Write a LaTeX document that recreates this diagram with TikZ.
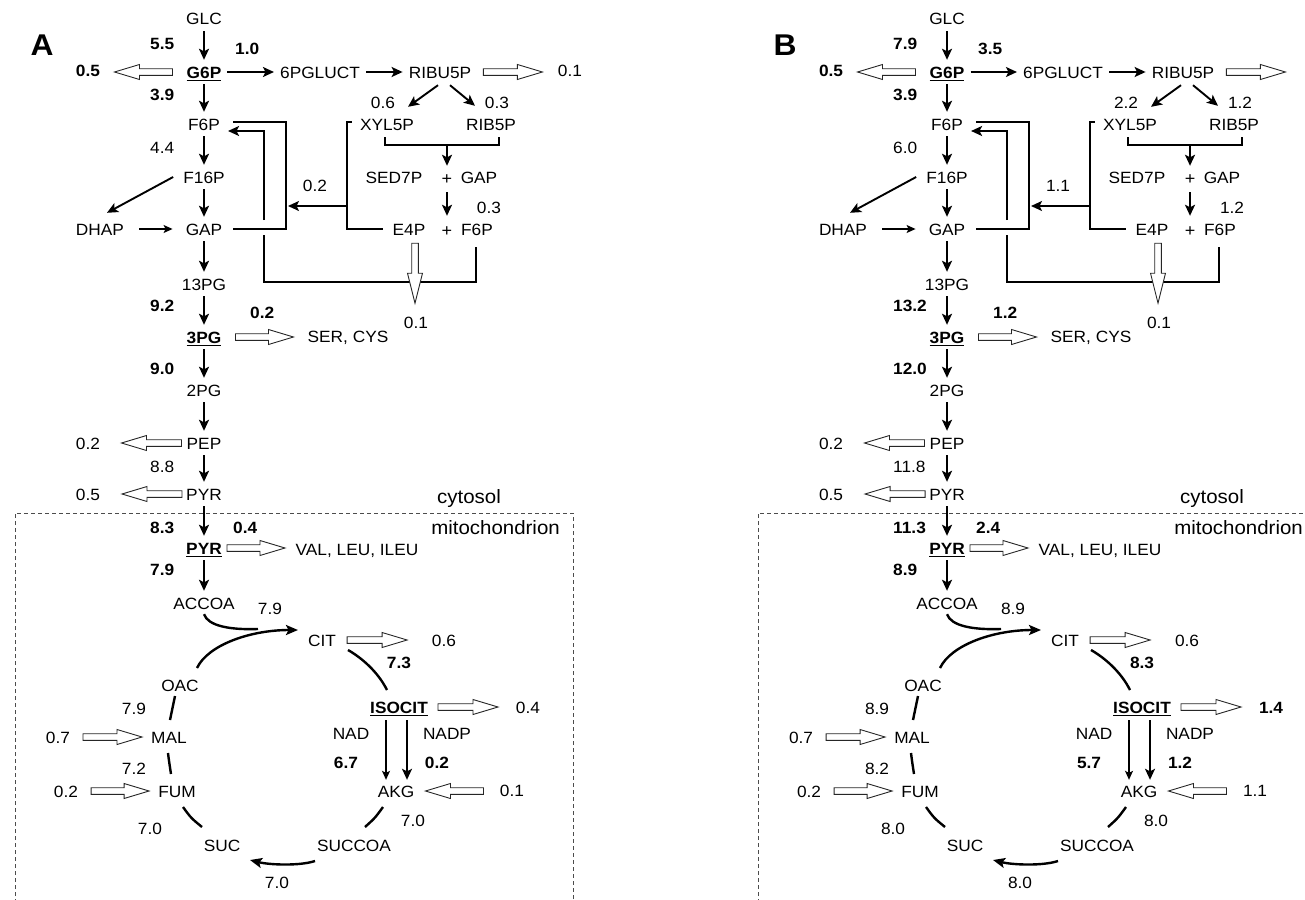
\documentclass[tikz,border=0pt]{standalone}
\usepackage{fontspec}
\setmainfont{Liberation Sans}[FakeStretch=1.06]
\usetikzlibrary{arrows.meta,calc}
\newcommand\fs{\fontsize{16.3pt}{19pt}\selectfont}
\newcommand\fsbig{\fontsize{19.3pt}{22pt}\selectfont}
\newcommand\myul[1]{\setbox0\hbox{#1}\rlap{\rule[-3pt]{\wd0}{1.2pt}}\box0}
% hollow (outlined) arrow from #2 to #3, head length #1
\newcommand\hollow[3][25pt]{%
  \path (#2) coordinate (hs) (#3) coordinate (he);
  \coordinate (hb) at ($(he)!#1!(hs)$);
  \draw[hol] ($(hs)!3.3pt!90:(he)$) -- ($(hb)!3.3pt!90:(he)$) -- ($(hb)!7.5pt!90:(he)$)
    -- (he) -- ($(hb)!7.5pt!-90:(he)$) -- ($(hb)!3.3pt!-90:(he)$) -- ($(hs)!3.3pt!-90:(he)$) -- cycle;}
\tikzset{
  met/.style={font=\fs, text height=12pt, text depth=0pt, inner sep=3pt},
  bmet/.style={met, font=\fs\bfseries},
  plus/.style={met, font=\fontsize{17pt}{19pt}\selectfont},
  big/.style={font=\fsbig, inner sep=0pt},
  lett/.style={font=\fontsize{30pt}{34pt}\selectfont\bfseries, inner sep=0pt},
  flow/.style={-{Stealth[length=11pt,width=10pt,inset=2.5pt]}, line width=1.9pt},
  thinflow/.style={-{Stealth[length=9pt,width=8pt,inset=2pt]}, line width=1.2pt},
  gap/.style={shorten <=3pt, shorten >=3pt},
  pline/.style={line width=1.9pt},
  tca/.style={line width=2.4pt},
  hol/.style={line width=0.9pt, draw=black!85, fill=white, line join=miter},
  dbox/.style={line width=1pt, draw=black!70, dash pattern=on 4pt off 3pt},
}
\newcommand\drawpanel{%
  \node[lett] (LET) at (42,45) {\pnLet};
  % main column
  \node[met] (GLC) at (204,19) {GLC};
  \node[bmet] (G6P) at (204,72) {\myul{G6P}};
  \node[met] (n6PG) at (320,72) {6PGLUCT};
  \node[met] (RIBU5P) at (440,72) {RIBU5P};
  \node[met] (F6P) at (204,124) {F6P};
  \node[met] (F16P) at (204,177) {F16P};
  \node[met] (DHAP) at (100,229) {DHAP};
  \node[met] (GAP) at (204,229) {GAP};
  \node[met] (n13PG) at (204,284) {13PG};
  \node[bmet] (n3PG) at (204,337) {\myul{3PG}};
  \node[met] (n2PG) at (204,390) {2PG};
  \node[met] (PEP) at (204,443) {PEP};
  \node[met] (PYR) at (204,494) {PYR};
  \node[bmet] (PYRm) at (204,548) {\myul{PYR}};
  \node[met] (ACCOA) at (204,603) {ACCOA};
  % pentose phosphate part
  \node[met] (XYL5P) at (387,124) {XYL5P};
  \node[met] (RIB5P) at (491,124) {RIB5P};
  \node[met] (SED7P) at (394,177) {SED7P};
  \node[plus] (plusA) at (447,178) {+};
  \node[met] (GAPb) at (479,177) {GAP};
  \node[met] (E4P) at (409,229) {E4P};
  \node[plus] (plusB) at (447,230) {+};
  \node[met] (F6Pb) at (477,229) {F6P};
  \node[met] (SER) at (348,336) {SER, CYS};
  \node[met] (VAL) at (357,549) {VAL, LEU, ILEU};
  % TCA
  \node[met] (CIT) at (322,640) {CIT};
  \node[met] (OAC) at (180,685) {OAC};
  \node[bmet] (ISOCIT) at (399,707) {\myul{ISOCIT}};
  \node[met] (MAL) at (169,737) {MAL};
  \node[met] (FUM) at (177,791) {FUM};
  \node[met] (AKG) at (396,791) {AKG};
  \node[met] (SUC) at (222,845) {SUC};
  \node[met] (SUCCOA) at (354,845) {SUCCOA};
  \node[met] (NAD) at (351,733) {NAD};
  \node[met] (NADP) at (447,733) {NADP};
  \node[big,anchor=base west] (cyto) at (437,503) {cytosol};
  \node[big,anchor=base east] (mito) at (560,534) {mitochondrion};
  % flux labels
  \node[bmet,anchor=west] (fA) at (147,43) {\pnA};
  \node[bmet,anchor=west] (fB) at (232,49) {\pnB};
  \node[bmet] (fC) at (88,71) {0.5};
  \node[bmet,anchor=west] (fD) at (147,94) {3.9};
  \node[met] (fE) at (570,71) {\pnE};
  \node[met] (fF) at (383,102) {\pnF};
  \node[met] (fG) at (497,102) {\pnG};
  \node[met,anchor=west] (fH) at (147,147) {\pnH};
  \node[met] (fI) at (315,185) {\pnI};
  \node[met] (fJ) at (489,207) {\pnJ};
  \node[met] (fK) at (416,322) {0.1};
  \node[bmet,anchor=west] (fL) at (147,305) {\pnK};
  \node[bmet,anchor=west] (fM) at (247,312) {\pnL};
  \node[bmet,anchor=west] (fN) at (147,368) {\pnM};
  \node[met] (fO) at (88,443) {0.2};
  \node[met,anchor=west] (fP) at (147,466) {\pnN};
  \node[met] (fQ) at (88,494) {0.5};
  \node[bmet,anchor=west] (fR) at (147,527) {\pnO};
  \node[bmet,anchor=west] (fS) at (230,527) {\pnP};
  \node[bmet,anchor=west] (fT) at (147,569) {\pnQ};
  \node[met] (fU) at (270,608) {\pnR};
  \node[met] (fV) at (444,640) {0.6};
  \node[bmet] (fW) at (399,662) {\pnS};
  \node[met] (fX) at (528,707) {\pnT};
  \node[met] (fY) at (134,708) {\pnU};
  \node[met] (fZ) at (58,737) {0.7};
  \node[bmet] (ga) at (346,762) {\pnV};
  \node[bmet] (gb) at (437,762) {\pnW};
  \node[met] (gc) at (134,768) {\pnX};
  \node[met] (gd) at (66,791) {0.2};
  \node[met] (ge) at (512,790) {\pnY};
  \node[met] (gf) at (150,828) {\pnZ};
  \node[met] (gg) at (413,820) {\pnZ};
  \node[met] (gh) at (277,882) {\pnZ};
  % main column arrows
  \foreach \a/\b in {GLC/G6P,G6P/F6P,F6P/F16P,F16P/GAP,GAP/n13PG,n13PG/n3PG,n3PG/n2PG,n2PG/PEP,PEP/PYR,PYR/PYRm,PYRm/ACCOA,G6P/n6PG,n6PG/RIBU5P}
    \draw[flow,gap] (\a) -- (\b);
  \draw[flow] ($(RIBU5P.south)+(-2,4)$) -- ($(XYL5P.north)+(21,-8)$);
  \draw[flow] ($(RIBU5P.south)+(10,4)$) -- ($(RIB5P.north)+(-16,-9)$);
  \draw[flow] ($(F16P.west)+(-7,0)$) -- ($(DHAP.north)+(7,-7)$);
  \draw[thinflow,shorten <=12pt,shorten >=10pt] (DHAP) -- (GAP);
  % PPP lines
  \coordinate (oTop) at (286,122);
  \draw[pline] ($(GAP.east)+(8,0)$) -| (oTop) -- ($(F6P.east)+(10,-2)$);
  \coordinate (iTop) at (264,220);
  \draw[flow] (iTop) |- ($(F6P.east)+(5,7)$);
  \coordinate (iBot) at (264,282);
  \draw[pline] ($(F6Pb.south)+(-1,9)$) |- (iBot) -- ($(iBot)+(0,-47)$);
  \coordinate (xB) at (347,122);
  \draw[pline] ($(XYL5P.west)+(-5,-2)$) -- (xB) |- ($(E4P.west)+(-6,0)$);
  \coordinate (xM) at (347,206);
  \draw[flow] (xM) -- ($(xM)+(-59,0)$);
  \draw[pline] ($(XYL5P.south)+(-2,4)$) |- ($(RIB5P.south)+(8,12)$) -- ($(RIB5P.south)+(8,4)$);
  \draw[flow,shorten >=3pt] ($(plusA)+(0,-33)$) -- (plusA);
  \draw[flow,shorten <=5pt,shorten >=5pt] (plusA) -- (plusB);
  % hollow arrows
  \hollow{$(G6P.west)+(-11,0)$}{$(G6P.west)+(-69,0)$}
  \hollow{$(RIBU5P.east)+(9,0)$}{$(RIBU5P.east)+(68,0)$}
  \hollow[30pt]{$(E4P.south)+(6,5)$}{$(E4P.south)+(6,65)$}
  \hollow{$(n3PG.east)+(11,0)$}{$(n3PG.east)+(69,0)$}
  \hollow{$(PEP.west)+(-2,0)$}{$(PEP.west)+(-62,0)$}
  \hollow{$(PYR.west)+(-1,0)$}{$(PYR.west)+(-61,0)$}
  \hollow{$(PYRm.east)+(2,0)$}{$(PYRm.east)+(60,0)$}
  \hollow{$(CIT.east)+(8,0)$}{$(CIT.east)+(68,0)$}
  \hollow{$(ISOCIT.east)+(7,0)$}{$(ISOCIT.east)+(67,0)$}
  \hollow{$(MAL.west)+(-65,0)$}{$(MAL.west)+(-6,0)$}
  \hollow{$(FUM.west)+(-64,0)$}{$(FUM.west)+(-6,0)$}
  \hollow{$(AKG.east)+(66,0)$}{$(AKG.east)+(8,0)$}
  % TCA cycle
  \draw[tca] ($(ACCOA.south)+(0,2)$) .. controls ($(ACCOA)+(4,23)$) and ($(ACCOA)+(26,27)$) .. ($(ACCOA)+(54,26)$);
  \draw[tca,-{Stealth[length=12pt,width=10pt,inset=2.5pt]}] ($(OAC)+(17,-17)$) .. controls ($(OAC)+(28,-40)$) and ($(OAC)+(70,-55)$) .. ($(CIT)+(-24,-10)$);
  \draw[tca] ($(CIT)+(26,10)$) .. controls ($(CIT)+(40,18)$) and ($(CIT)+(56,32)$) .. ($(ISOCIT)+(-12,-17)$);
  \draw[tca] ($(OAC)+(-5,11)$) -- ($(MAL)+(1,-17)$);
  \draw[tca] ($(MAL)+(-1,16)$) .. controls ($(MAL)+(0,24)$) .. ($(FUM)+(-6,-17)$);
  \draw[tca] ($(FUM)+(6,16)$) .. controls ($(FUM)+(14,27)$) .. ($(SUC)+(-20,-18)$);
  \draw[tca] ($(AKG)+(-13,16)$) .. controls ($(AKG)+(-21,27)$) .. ($(SUCCOA)+(11,-18)$);
  \draw[tca,-{Stealth[length=12pt,width=10pt,inset=2.5pt]}] ($(SUCCOA)+(-39,16)$) .. controls ($(SUCCOA)+(-54,21)$) and ($(SUC)+(48,20)$) .. ($(SUC)+(28,15)$);
  \draw[thinflow] ($(ISOCIT.south)+(-13,4)$) -- ($(AKG.north)+(-10,-2)$);
  \draw[flow,line width=1.6pt] ($(ISOCIT.south)+(8,4)$) -- ($(AKG.north)+(11,-2)$);
  % compartment border
  \draw[dbox] (15,910) -- (15,513) -- (573,513) -- (573,910);
}
\begin{document}
\begin{tikzpicture}[x=1pt,y=-1pt]
\useasboundingbox (0,0) rectangle (1305,899);
\clip (0,0) rectangle (1305,899);
% panel A
\def\pnLet{A}\def\pnA{5.5}\def\pnB{1.0}\def\pnE{0.1}\def\pnF{0.6}\def\pnG{0.3}
\def\pnH{4.4}\def\pnI{0.2}\def\pnJ{0.3}\def\pnK{9.2}\def\pnL{0.2}\def\pnM{9.0}
\def\pnN{8.8}\def\pnO{8.3}\def\pnP{0.4}\def\pnQ{7.9}\def\pnR{7.9}\def\pnS{7.3}
\def\pnT{0.4}\def\pnU{7.9}\def\pnV{6.7}\def\pnW{0.2}\def\pnX{7.2}\def\pnY{0.1}\def\pnZ{7.0}
\begin{scope}[name prefix=A-]
\drawpanel
\end{scope}
% panel B
\def\pnLet{B}\def\pnA{7.9}\def\pnB{3.5}\def\pnE{}\def\pnF{2.2}\def\pnG{1.2}
\def\pnH{6.0}\def\pnI{1.1}\def\pnJ{1.2}\def\pnK{13.2}\def\pnL{1.2}\def\pnM{12.0}
\def\pnN{11.8}\def\pnO{11.3}\def\pnP{2.4}\def\pnQ{8.9}\def\pnR{8.9}\def\pnS{8.3}
\def\pnT{\bfseries 1.4}\def\pnU{8.9}\def\pnV{5.7}\def\pnW{1.2}\def\pnX{8.2}\def\pnY{1.1}\def\pnZ{8.0}
\begin{scope}[xshift=743pt, name prefix=B-]
\drawpanel
\end{scope}
\end{tikzpicture}
\end{document}
